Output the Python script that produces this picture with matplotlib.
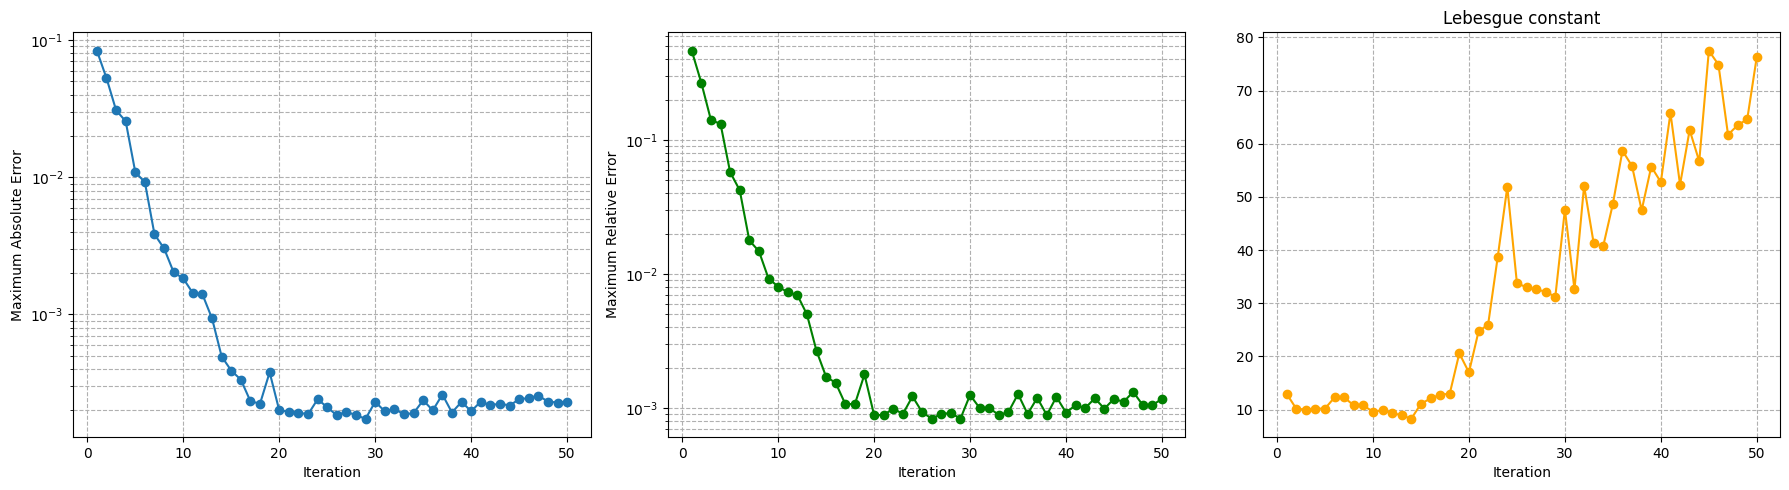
import numpy as np
import matplotlib
matplotlib.use("Agg")
import matplotlib.pyplot as plt

iterations = list(range(1, 51))

abs_error = [0.0836, 0.0528, 0.0308, 0.0256, 0.0109, 0.0092, 0.00384, 0.00303, 0.00203, 0.00183,
             0.00143, 0.00140, 0.000935, 0.000494, 0.000390, 0.000335, 0.000233, 0.000224, 0.000379, 0.000200,
             0.000196, 0.000193, 0.000187, 0.000241, 0.000211, 0.000184, 0.000196, 0.000184, 0.000174, 0.000231,
             0.000197, 0.000205, 0.000187, 0.000191, 0.000237, 0.000200, 0.000261, 0.000193, 0.000231, 0.000197,
             0.000232, 0.000218, 0.000224, 0.000217, 0.000241, 0.000246, 0.000256, 0.000232, 0.000228, 0.000232]

rel_error = [0.464, 0.267, 0.141, 0.132, 0.0576, 0.0422, 0.0178, 0.0148, 0.00925, 0.00806,
             0.00731, 0.00698, 0.00500, 0.00267, 0.00171, 0.00154, 0.00107, 0.00107, 0.00178, 0.000886,
             0.000886, 0.000989, 0.000902, 0.00122, 0.000933, 0.000832, 0.000902, 0.000918, 0.000832, 0.00125,
             0.00100, 0.00100, 0.000886, 0.000933, 0.00127, 0.000902, 0.00119, 0.000886, 0.00121, 0.000923,
             0.00105, 0.00100, 0.00118, 0.000989, 0.00117, 0.00111, 0.00132, 0.00105, 0.00105, 0.00117]

lebesgue = [13.0, 10.2, 10.0, 10.2, 10.2, 12.3, 12.3, 10.8, 10.8, 9.6,
            9.9, 9.4, 8.9, 8.3, 11.1, 12.1, 12.8, 13.0, 20.6, 17.0,
            24.7, 26.0, 38.7, 51.9, 33.8, 33.0, 32.6, 32.2, 31.2, 47.6,
            32.6, 52.1, 41.3, 40.8, 48.7, 58.7, 55.8, 47.5, 55.7, 52.8,
            65.8, 52.3, 62.6, 56.7, 77.5, 74.9, 61.7, 63.5, 64.6, 76.4]

fig, axes = plt.subplots(1, 3, figsize=(17.9, 4.9), dpi=100)
fig.subplots_adjust(left=0.041, right=0.9946, top=0.934, bottom=0.108, wspace=0.15)

ax = axes[0]
ax.plot(iterations, abs_error, marker='o', color='#1f77b4')
ax.set_yscale('log')
ax.set_xlabel('Iteration')
ax.set_ylabel('Maximum Absolute Error')
ax.grid(True, which='both', linestyle='--')

ax = axes[1]
ax.plot(iterations, rel_error, marker='o', color='green')
ax.set_yscale('log')
ax.set_xlabel('Iteration')
ax.set_ylabel('Maximum Relative Error')
ax.grid(True, which='both', linestyle='--')

ax = axes[2]
ax.plot(iterations, lebesgue, marker='o', color='orange')
ax.set_xlabel('Iteration')
ax.set_title('Lebesgue constant')
ax.grid(True, which='both', linestyle='--')

fig.savefig('out.png', dpi=100)
